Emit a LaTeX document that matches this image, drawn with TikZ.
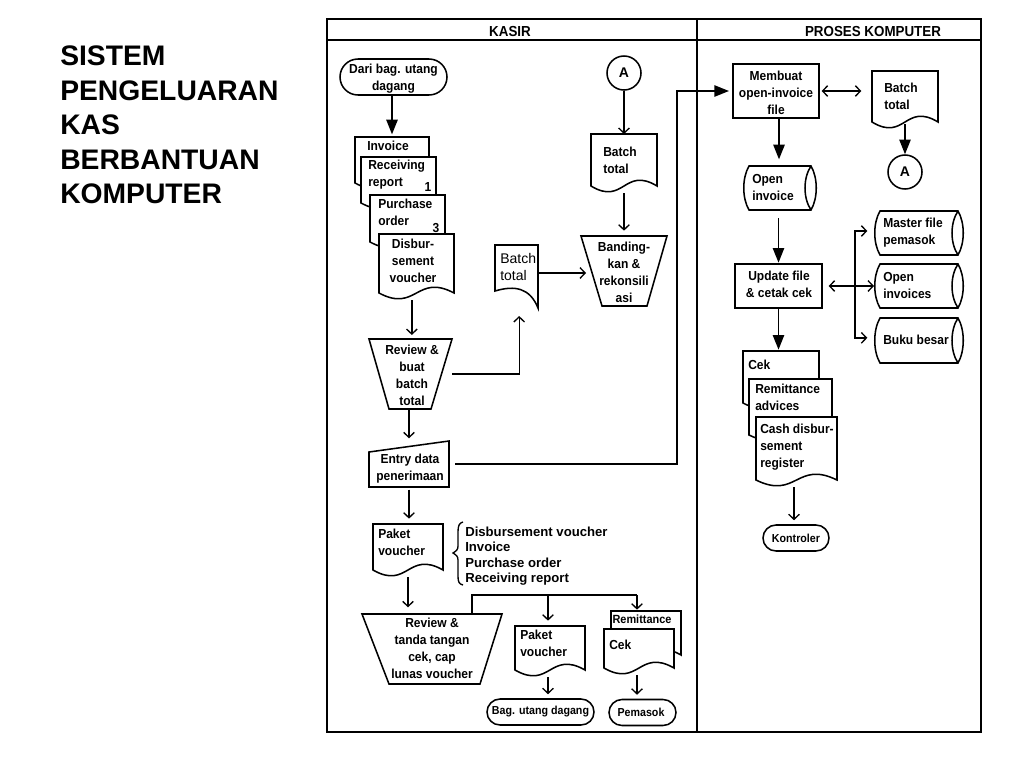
\documentclass[tikz,border=0pt]{standalone}
\usepackage{fontspec}
\setmainfont{Liberation Sans}
\newfontfamily\bodyfont[FakeStretch=0.92]{Liberation Sans}
\usetikzlibrary{arrows.meta,fit,shapes.misc}
\tikzset{
  shp/.style={draw=black,fill=white,line width=1.15pt,line join=miter},
  hit/.style={inner sep=0pt,outer sep=0pt},
  lbl/.style={font=\bodyfont\bfseries\fontsize{9.8}{12.75}\selectfont,inner sep=0pt,align=left,anchor=west,text=black},
  clbl/.style={font=\bodyfont\bfseries\fontsize{9.8}{12.75}\selectfont,inner sep=0pt,align=center,text=black},
  tlbl/.style={font=\bodyfont\bfseries\fontsize{8.7}{12.75}\selectfont,inner sep=0pt,align=center,text=black},
  term/.style={draw=black,fill=white,line width=1.15pt,rounded rectangle,inner sep=0pt,align=center},
  conn/.style={draw=black,fill=white,line width=1.15pt,circle,minimum size=25.5pt,inner sep=0pt,font=\bfseries\fontsize{10.5}{12}\selectfont},
  thinarr/.style={line width=1pt,-{Straight Barb[length=3.8pt,width=8pt,line width=1pt]}},
  thinbi/.style={line width=1pt,{Straight Barb[length=3.8pt,width=8pt,line width=1pt]}-{Straight Barb[length=3.8pt,width=8pt,line width=1pt]}},
  fatarr/.style={line width=1.2pt,-{Triangle[length=11pt,width=8.5pt]}},
  fatline/.style={line width=1.2pt},
  frame/.style={draw=black,line width=1.4pt}
}
% name, x0, y0, x1, bottom y
\newcommand{\docshape}[5]{%
  \draw[shp] (#2,#3) -- (#4,#3) -- (#4,#5)
    .. controls ({(#2+#4)/2},{#5-20}) and ({(#2+#4)/2},{#5+20}) .. (#2,#5) -- cycle;
  \coordinate (#1-a) at (#2,#3);
  \coordinate (#1-b) at (#4,{#5+7});
  \node[fit=(#1-a)(#1-b),hit] (#1) {};}
% name, x0, y0, x1, y1
\newcommand{\cylshape}[5]{%
  \draw[shp] ({#2+6},#3) -- ({#4-6},#3)
    .. controls ({#4+1},{#3+12}) and ({#4+1},{#5-12}) .. ({#4-6},#5)
    -- ({#2+6},#5)
    .. controls ({#2-1},{#5-12}) and ({#2-1},{#3+12}) .. ({#2+6},#3) -- cycle;
  \draw[shp,fill=none] ({#4-6},#3)
    .. controls ({#4-14},{#3+12}) and ({#4-14},{#5-12}) .. ({#4-6},#5);
  \coordinate (#1-a) at (#2,#3);
  \coordinate (#1-b) at (#4,#5);
  \node[fit=(#1-a)(#1-b),hit] (#1) {};}
% name, top x0, top x1, bottom x0, bottom x1, y0, y1
\newcommand{\trapshape}[7]{%
  \draw[shp] (#2,#6) -- (#3,#6) -- (#5,#7) -- (#4,#7) -- cycle;
  \coordinate (#1-a) at (#2,#6);
  \coordinate (#1-b) at (#3,#7);
  \node[fit=(#1-a)(#1-b),hit] (#1) {};}
% name, x0, y0, x1, y1
\newcommand{\boxshape}[5]{%
  \draw[shp] (#2,#3) rectangle (#4,#5);
  \coordinate (#1-a) at (#2,#3);
  \coordinate (#1-b) at (#4,#5);
  \node[fit=(#1-a)(#1-b),hit] (#1) {};}
\begin{document}
\begin{tikzpicture}[x=0.75pt,y=-0.75pt]
\useasboundingbox (0,0) rectangle (1024,768);
\fill[white] (0,0) rectangle (1024,768);
% title
\node[font=\bfseries\fontsize{21.2}{25.9}\selectfont,align=left,anchor=west,inner sep=0pt] (title) at (60,125)
  {SISTEM\\PENGELUARAN\\KAS\\BERBANTUAN\\KOMPUTER};
% frame
\draw[frame] (327,19) rectangle (981,732);
\draw[frame] (327,40) -- (981,40);
\draw[frame] (697,19) -- (697,732);
\node[clbl,font=\bodyfont\bfseries\fontsize{10.9}{12}\selectfont] (hkasir) at (510,31) {KASIR};
\node[clbl,font=\bodyfont\bfseries\fontsize{10.9}{12}\selectfont] (hproses) at (873,31) {PROSES KOMPUTER};

% KASIR column
\node[term,minimum width=80.25pt,minimum height=27pt] (dari) at (393.5,77) {};
\node[clbl] (darit) at (393.5,78.5) {Dari bag. utang\\dagang};
\docshape{inv}{355}{137}{429}{183}
\docshape{rec}{361}{157}{436}{203}
\docshape{po}{370}{195}{445}{242}
\docshape{dis}{379}{234}{454}{293}
\node[lbl] (invt) at (367,146) {Invoice};
\node[lbl] (rect) at (368,175) {Receiving\\report};
\node[clbl,anchor=center] (n1) at (428,187) {1};
\node[lbl] (pot) at (378,212) {Purchase\\order};
\node[clbl,anchor=center] (n3) at (436,228) {3};
\node[clbl] (dist) at (413,261) {Disbur-\\sement\\voucher};
\draw[fatarr,shorten >=2pt] (dari.south -| inv.north) -- (inv.north);

\trapshape{rev}{369}{452}{389}{431}{339}{409}
\node[clbl] (revt) at (412,375) {Review \&\\buat\\batch\\total};
\draw[thinarr,shorten >=3pt] ([xshift=1pt]dis.south -| rev.north) -- ([xshift=1pt]rev.north);

\draw[shp] (495,245) -- (538,245) -- (538,308) .. controls (530,288) and (515,285) .. (495,291) -- cycle;
\coordinate (mid-a) at (495,245);
\coordinate (mid-b) at (538,308);
\node[fit=(mid-a)(mid-b),hit] (mid) {};
\node[inner sep=0pt,align=left,anchor=west,font=\fontsize{10.5}{12.75}\selectfont] (midt) at (500,267) {Batch\\total};
\draw[thinarr,shorten >=6pt] (rev.east) -| ([xshift=2pt]mid.south);

\node[conn] (ca) at (624,73) {A};
\docshape{bt}{591}{134}{657}{186}
\node[lbl] (btt) at (603,160) {Batch\\total};
\draw[thinarr] (ca.south) -- (ca.south |- bt.north);
\trapshape{ban}{581}{667}{602}{647}{236}{306}
\node[clbl] (bant) at (624,272.5) {Banding-\\kan \&\\rekonsili\\asi};
\draw[thinarr,shorten >=4pt] (bt.south) -- (bt.south |- ban.north);
\draw[thinarr,shorten >=-3.75pt] ([yshift=-1.5pt]mid.east |- ban.west) -- ([yshift=-1.5pt]ban.west);

\draw[shp] (369,452) -- (449,441) -- (449,487) -- (369,487) -- cycle;
\coordinate (ent-a) at (369,441);
\coordinate (ent-b) at (449,487);
\node[fit=(ent-a)(ent-b),hit] (ent) {};
\node[clbl] (entt) at (410,468.5) {Entry data\\penerimaan};
\draw[thinarr,shorten >=2pt] (ent.north |- rev.south) -- (ent.north);

\docshape{pak}{373}{524}{443}{570}
\node[lbl] (pakt) at (378,542.5) {Paket\\voucher};
\draw[thinarr,shorten <=2pt,shorten >=4pt] (ent.south) -- (ent.south |- pak.north);
\draw[line width=1pt] (463,522) .. controls (459,523) and (458,526) .. (458,532) -- (458,546)
  .. controls (458,550) and (456,551) .. (453,553) .. controls (456,555) and (458,556) .. (458,560)
  -- (458,576) .. controls (458,582) and (459,584) .. (463,585);
\node[anchor=west,inner sep=0pt,align=left,font=\bfseries\fontsize{9.85}{11.5}\selectfont] (list) at (465,556)
  {Disbursement voucher\\Invoice\\Purchase order\\Receiving report};

\trapshape{rv}{362}{502}{389}{480}{614}{684}
\node[clbl] (rvt) at (432,648.5) {Review \&\\tanda tangan\\cek, cap\\lunas voucher};
\draw[thinarr,shorten >=5pt] (pak.south) -- (pak.south |- rv.north);

\docshape{pk}{515}{626}{585}{670}
\node[lbl] (pkt) at (520,643.5) {Paket\\voucher};
\docshape{rem}{611}{611}{681}{655}
\docshape{cek}{604}{629}{674}{668}
\node[clbl,font=\bodyfont\bfseries\fontsize{8.9}{10}\selectfont] (remt) at (642,619) {Remittance};
\node[lbl] (cekt) at (609,645) {Cek};
\coordinate (bus) at (548,595);
\coordinate (busr) at (637,595);
\draw[fatline] ([xshift=30pt]rv.north) |- (busr);
\draw[thinarr,shorten >=1pt] (busr) -- (busr |- rem.north);
\draw[thinarr,shorten >=4pt] (bus) -- (bus |- pk.north);

\node[term,minimum width=80.25pt,minimum height=19.5pt] (bag) at (540.5,712) {};
\node[tlbl] (bagt) at (540.5,712) {Bag. utang dagang};
\node[term,minimum width=50.25pt,minimum height=19.5pt] (pem) at (642.5,712.5) {};
\node[tlbl] (pemt) at (641,712.5) {Pemasok};
\draw[thinarr,shorten >=3pt] (pk.south -| bus) -- (bus |- bag.north);
\draw[thinarr,shorten >=3pt] (cek.south -| busr) -- (busr |- pem.north);

% PROSES KOMPUTER column
\boxshape{mem}{733}{64}{819}{118}
\node[clbl] (memt) at (776,93) {Membuat\\open-invoice\\file};
\docshape{bt2}{872}{71}{938}{122}
\node[lbl] (bt2t) at (884,96.5) {Batch\\total};
\coordinate (bend) at (677,91);
\draw[fatarr,shorten >=3pt] ([xshift=4.5pt]ent.east) -| (bend) -- (mem.west);
\draw[thinbi,shorten <=2pt,shorten >=8pt] (mem.east) -- (bt2.west |- mem.east);
\node[conn] (cb) at (905,172) {A};
\draw[fatarr,shorten <=-3.75pt] (bt2.south) -- (cb.north);
\cylshape{oi}{743}{166}{817}{210}
\node[lbl] (oit) at (752,187.5) {Open\\invoice};
\coordinate (spine) at (779,0);
\draw[fatarr,shorten >=5pt] (mem.south -| spine) -- (oi.north -| spine);
\boxshape{upd}{735}{264}{822}{308}
\node[clbl] (updt) at (779,284.5) {Update file\\\& cetak cek};
\draw[fatarr,shorten <=6pt,shorten >=1pt] (oi.south -| upd.north) -- (upd.north);
\cylshape{mf}{874}{211}{964}{255}
\cylshape{ois}{874}{264}{964}{308}
\cylshape{bb}{874}{318}{964}{363}
\node[lbl] (mft) at (883,232.5) {Master file\\pemasok};
\node[lbl] (oist) at (883,285.5) {Open\\invoices};
\node[lbl] (bbt) at (883,340) {Buku besar};
\coordinate (stem) at (855,286);
\draw[thinbi,shorten <=5pt] (upd.east) -- (ois.west);
\draw[thinarr,shorten >=5pt] (stem) |- ([yshift=1.5pt]mf.west);
\draw[thinarr,shorten >=5pt] (stem) |- ([yshift=2pt]bb.west);

\docshape{ck}{743}{351}{819}{403}
\docshape{ra}{749}{379}{832}{435}
\docshape{cd}{756}{417}{837}{480}
\node[lbl] (ckt) at (748,365) {Cek};
\node[lbl] (rat) at (755,397.5) {Remittance\\advices};
\node[lbl] (cdt) at (760,447) {Cash disbur-\\sement\\register};
\draw[fatarr,shorten >=1pt] (upd.south) -- (upd.south |- ck.north);
\node[term,minimum width=49.5pt,minimum height=19.5pt] (kon) at (796,538) {};
\node[tlbl] (kont) at (796,538) {Kontroler};
\coordinate (konx) at (794,0);
\draw[thinarr,shorten >=3pt] (cd.south -| konx) -- (konx |- kon.north);
\end{tikzpicture}
\end{document}
